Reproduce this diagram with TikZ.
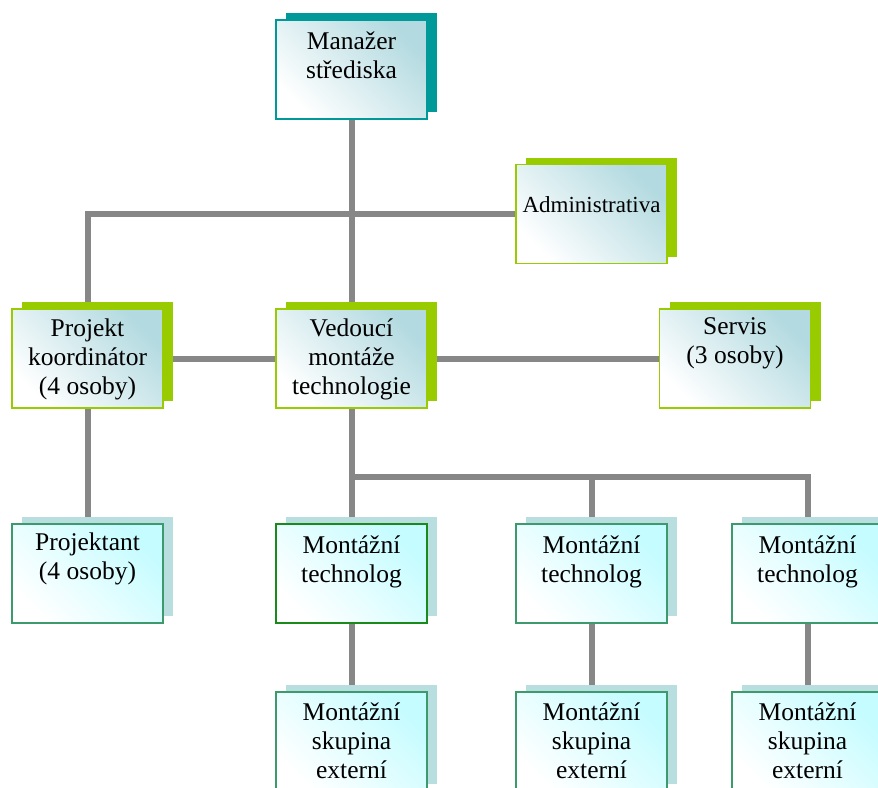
\documentclass[tikz,border=0pt]{standalone}
\usepackage{fontspec}
\setmainfont{Liberation Serif}
\usetikzlibrary{shadows,backgrounds}
\definecolor{shgreen}{HTML}{99CC00}
\definecolor{shteal}{HTML}{009999}
\definecolor{shblue}{HTML}{B8DEE0}
\definecolor{bdgreen}{HTML}{3C9A6C}
\definecolor{bddark}{HTML}{1A8A1A}
\definecolor{paleteal}{HTML}{B2DAE0}
\definecolor{palecyan}{HTML}{C4FCFF}
\definecolor{linkgray}{HTML}{878787}
% box text: first baseline, then lines
\newcommand{\orgtext}[2][27pt]{\parbox[c][99pt][t]{151pt}{\centering\rule{0pt}{#1}#2}}
\tikzset{
  orgbox/.style={draw, line width=1.6pt, inner sep=0pt, left color=white},
  upbox/.style={orgbox, draw=shgreen, right color=paleteal, shading angle=135,
    drop shadow={shadow xshift=10pt, shadow yshift=7pt, fill=shgreen, opacity=1}},
  topbox/.style={orgbox, draw=shteal, right color=paleteal, shading angle=135,
    drop shadow={shadow xshift=10pt, shadow yshift=7pt, fill=shteal, opacity=1}},
  lowbox/.style={orgbox, draw=bdgreen, right color=palecyan, shading angle=135,
    drop shadow={shadow xshift=10pt, shadow yshift=7pt, fill=shblue, opacity=1}},
  link/.style={draw=linkgray, line width=6pt}
}
\begin{document}
\begin{tikzpicture}[x=1pt,y=-1pt,every node/.style={font=\fontsize{25.5}{29}\selectfont}]
\useasboundingbox (0,0) rectangle (878,787);
% upper levels
\node[topbox] (man) at (351.5,69.5) {\orgtext[29pt]{Manažer\\střediska}};
\node[upbox] (adm) at (591.5,214) {\orgtext[48pt]{\fontsize{23}{27}\selectfont Administrativa}};
\node[upbox] (pk) at (87.5,358.5) {\orgtext[27pt]{Projekt\\koordinátor\\(4 osoby)}};
\node[upbox] (ved) at (351.5,358.5) {\orgtext[27pt]{Vedoucí\\montáže\\technologie}};
\node[upbox] (ser) at (735,358.5) {\orgtext[25pt]{Servis\\(3 osoby)}};
% lower levels
\node[lowbox] (pro) at (87.5,573.5) {\orgtext[26pt]{Projektant\\(4 osoby)}};
\foreach \n/\x in {1/351.5,2/591.5,3/807.5} {
  \node[lowbox] (mt\n) at (\x,573.5) {\orgtext[29pt]{Montážní\\technolog}};
  \node[lowbox] (ms\n) at (\x,741.5) {\orgtext[28pt]{Montážní\\skupina\\externí}};
}
\node[lowbox, draw=bddark] at (mt1) {\orgtext[29pt]{Montážní\\technolog}};
% connectors
\begin{scope}[on background layer={link}]
\draw[link] (man.south) -- (ved.north);
\draw[link] (adm.west) -| (pk.north);
\draw[link] (pk.east) -- (ved.west);
\draw[link] (ved.east) -- (ser.west);
\draw[link] (pk.south) -- (pro.north);
\coordinate (split) at (351.5,477);
\draw[link] (ved.south) -- (mt1.north);
\draw[link] (split) -| (mt2.north);
\draw[link] (split) -| (mt3.north);
\foreach \n in {1,2,3} \draw[link] (mt\n.south) -- (ms\n.north);
\end{scope}
\end{tikzpicture}
\end{document}
